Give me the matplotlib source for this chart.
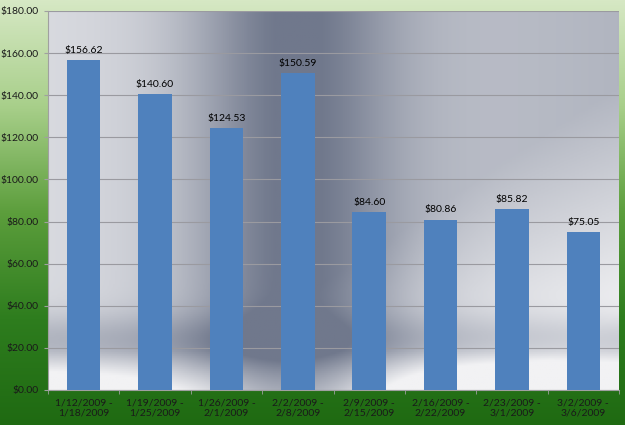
import numpy as np
import matplotlib.pyplot as plt
from matplotlib.colors import LinearSegmentedColormap

# Valores semanais
weeks = ["1/12/2009 -\n1/18/2009", "1/19/2009 -\n1/25/2009", "1/26/2009 -\n2/1/2009",
         "2/2/2009 -\n2/8/2009", "2/9/2009 -\n2/15/2009", "2/16/2009 -\n2/22/2009",
         "2/23/2009 -\n3/1/2009", "3/2/2009 -\n3/6/2009"]
values = [156.62, 140.60, 124.53, 150.59, 84.60, 80.86, 85.82, 75.05]
yticks = [0, 20, 40, 60, 80, 100, 120, 140, 160, 180]

plt.rcParams['font.family'] = ['Lato', 'DejaVu Sans']

fig = plt.figure(figsize=(6.25, 4.25), dpi=100)

# Fundo verde em degradê
bg = fig.add_axes([0, 0, 1, 1], zorder=0)
green = LinearSegmentedColormap.from_list('g', ['#d6e8c4', '#a8cf8a', '#5c9e3c', '#2e7d1e', '#1f6a12'])
bg.imshow(np.linspace(0, 1, 256).reshape(-1, 1), aspect='auto', cmap=green,
          extent=[0, 1, 0, 1], origin='upper')
bg.axis('off')

ax = fig.add_axes([0.0768, 0.0824, 0.9136, 0.8918], zorder=1)

# Fundo prateado da área do gráfico
xx, yy = np.meshgrid(np.linspace(0, 1, 300), np.linspace(0, 1, 200))
band = np.exp(-((xx - 0.43) / 0.18) ** 2)
shade = 0.85 - 0.35 * band - 0.15 * xx
shade += 0.25 * np.clip((xx + (1 - yy) - 1.2) / 0.6, 0, 1)
shade -= 0.15 * np.exp(-((yy - 0.13) / 0.07) ** 2)
shade += 0.25 * np.clip((0.1 - yy) / 0.1, 0, 1) * (1 - band * 0.5)
shade = np.clip(shade, 0.45, 0.95)
silver = LinearSegmentedColormap.from_list('s', ['#70788c', '#f2f2f4'])
ax.imshow((shade - 0.45) / 0.5, aspect='auto', cmap=silver, vmin=0, vmax=1,
          extent=[-0.5, len(values) - 0.5, 0, 180], origin='lower', zorder=0)

x = np.arange(len(values))
bars = ax.bar(x, values, width=0.47, color='#4f81bd', zorder=3)
for b, v in zip(bars, values):
    ax.text(b.get_x() + b.get_width() / 2, v + 2.5, f"${v:.2f}", ha='center', va='bottom',
            fontsize=7.5, color='black', zorder=4)

ax.set_xlim(-0.5, len(values) - 0.5)
ax.set_ylim(0, 180)
ax.set_yticks(yticks)
ax.set_yticklabels([f"${t:.2f}" for t in yticks], fontsize=7.5, color='#1a1a1a')
ax.set_xticks(x)
ax.set_xticklabels(weeks, fontsize=7.5, linespacing=1.1, color='#1a1a1a')
ax.tick_params(axis='x', length=0, pad=6)
ax.set_xticks(np.arange(-0.5, len(values)), minor=True)
ax.tick_params(axis='x', which='minor', length=3, color='#a0a0a0')
ax.tick_params(axis='y', length=3, color='#a0a0a0')
ax.grid(axis='y', color='#9a9aa0', linewidth=0.8, zorder=1)
for s in ['top', 'right']:
    ax.spines[s].set_visible(False)
for s in ['left', 'bottom']:
    ax.spines[s].set_color('#a0a0a0')

fig.savefig('out.png', dpi=100)
